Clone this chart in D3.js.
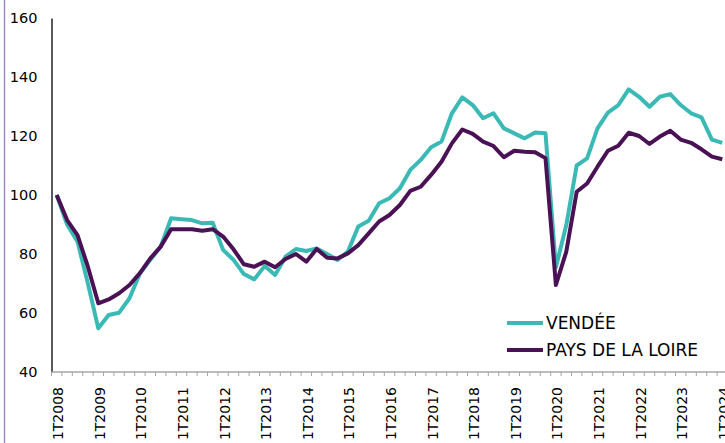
<!DOCTYPE html>
<html>
<head>
<meta charset="utf-8">
<script src="https://cdn.jsdelivr.net/npm/d3@7"></script>
<style>
  body { margin: 0; background: #fff; }
  svg { display: block; font-family: "DejaVu Sans", Verdana, sans-serif; }
</style>
</head>
<body>
<div id="chart"></div>
<script>
// quarters 1T2008 .. 1T2024
var years = d3.range(2008, 2025);
var quarters = [];
years.forEach(function(y) {
    [1, 2, 3, 4].forEach(function(q) {
        if (y < 2024 || q === 1) quarters.push(q + "T" + y);
    });
});

var vendee = [
    100, 90, 84.2, 70, 54.8, 59.3, 60.1, 65, 73.4, 78, 82.5, 92.1, 91.8,
    91.5, 90.4, 90.6, 81.4, 78, 73.2, 71.4, 75.9, 72.9, 79.1, 81.7, 81,
    81.9, 80, 78, 80.8, 89.3, 91.3, 97.2, 98.9, 102.3, 108.5, 111.9, 116.2,
    118.1, 127.7, 133.1, 130.5, 126, 127.7, 122.6, 120.9, 119.2, 121.2, 120.9, 75.5,
    89.8, 110, 112.4, 122.6, 127.9, 130.5, 135.8, 133.3, 129.9, 133.3, 134.2, 130.5,
    127.7, 126.3, 118.8, 117.7
];

var paysDeLaLoire = [
    100, 91.5, 86.4, 75.7, 63.3, 64.6, 66.7, 69.5, 73.5, 78.5, 82.5, 88.4, 88.4,
    88.4, 87.9, 88.4, 85.9, 81.6, 76.5, 75.7, 77.4, 75.5, 78.3, 80, 77.4,
    81.7, 78.7, 78.5, 80.2, 83, 87, 91, 93.2, 96.6, 101.4, 102.8, 106.8,
    111.3, 117.5, 122.2, 120.7, 118.1, 116.6, 112.8, 115, 114.7, 114.5, 112.5, 69.5,
    80.8, 101.1, 103.9, 109.6, 115, 116.7, 121.1, 120, 117.3, 119.8, 121.8, 118.8,
    117.7, 115.5, 113, 112.1
];

var yTicks = [40, 60, 80, 100, 120, 140, 160];

var series = [
    { name: "VENDÉE", values: vendee, color: "#3bb9b5" },
    { name: "PAYS DE LA LOIRE", values: paysDeLaLoire, color: "#4a1254" }
];

var w = 725, h = 443;

var svg = d3.select("#chart").append("svg")
    .attr("width", w)
    .attr("height", h);

// band per quarter, points sit in the middle of each band
var xScale = d3.scaleBand()
    .domain(quarters)
    .range([51.5, 51.5 + quarters.length * 10.4])
    .paddingInner(0);

var yScale = d3.scaleLinear()
    .domain([40, 160])
    .range([372, 18]);

function xMid(d) { return xScale(d) + xScale.bandwidth() / 2; }

// purple frame edge on the left
svg.append("line")
    .attr("x1", 4.5).attr("x2", 4.5)
    .attr("y1", 0).attr("y2", h)
    .attr("stroke", "#a688c0")
    .attr("stroke-width", 1.5);

// y axis
var yAxis = svg.append("g")
    .attr("transform", "translate(" + 51.5 + ",0)")
    .call(d3.axisLeft(yScale).tickValues(yTicks).tickSize(0).tickPadding(14));
yAxis.select(".domain").attr("stroke", "#000").attr("stroke-width", 1.3);
yAxis.selectAll("text")
    .attr("font-size", "14.5px")
    .attr("fill", "#000")
    .attr("font-family", "DejaVu Sans, Verdana, sans-serif");

// x axis line + tick marks between quarters
var xAxis = svg.append("g").attr("transform", "translate(0," + yScale(40) + ")");
xAxis.append("line")
    .attr("x1", xScale.range()[0]).attr("x2", w)
    .attr("y1", 0).attr("y2", 0)
    .attr("stroke", "#a6a6a6")
    .attr("stroke-width", 1.3);
xAxis.selectAll("line.tick")
    .data(quarters)
    .enter().append("line")
    .attr("class", "tick")
    .attr("x1", function(d) { return xScale(d); })
    .attr("x2", function(d) { return xScale(d); })
    .attr("y1", 0).attr("y2", 4)
    .attr("stroke", "#a6a6a6")
    .attr("stroke-width", 1);

// rotated labels, first quarter of each year only
xAxis.selectAll("text")
    .data(quarters.filter(function(d) { return d.indexOf("1T") === 0; }))
    .enter().append("text")
    .attr("transform", function(d) {
        return "translate(" + (xMid(d) + 1.5) + ",15) rotate(-90)";
    })
    .attr("dy", "0.35em")
    .attr("text-anchor", "end")
    .attr("font-size", "14px")
    .attr("fill", "#000")
    .text(function(d) { return d; });

// lines
var line = d3.line()
    .x(function(d, i) { return xMid(quarters[i]); })
    .y(function(d) { return yScale(d); });

svg.selectAll("path.series")
    .data(series)
    .enter().append("path")
    .attr("class", "series")
    .attr("d", function(d) { return line(d.values); })
    .attr("fill", "none")
    .attr("stroke", function(d) { return d.color; })
    .attr("stroke-width", 4)
    .attr("stroke-linejoin", "round");

// legend
var legend = svg.selectAll("g.legend")
    .data(series)
    .enter().append("g")
    .attr("class", "legend")
    .attr("transform", function(d, i) { return "translate(507," + (323 + i * 27) + ")"; });
legend.append("line")
    .attr("x1", 0).attr("x2", 36)
    .attr("stroke", function(d) { return d.color; })
    .attr("stroke-width", 4);
legend.append("text")
    .attr("x", 39)
    .attr("dy", "0.36em")
    .attr("font-size", "17px")
    .attr("fill", "#000")
    .text(function(d) { return d.name; });
</script>
</body>
</html>
